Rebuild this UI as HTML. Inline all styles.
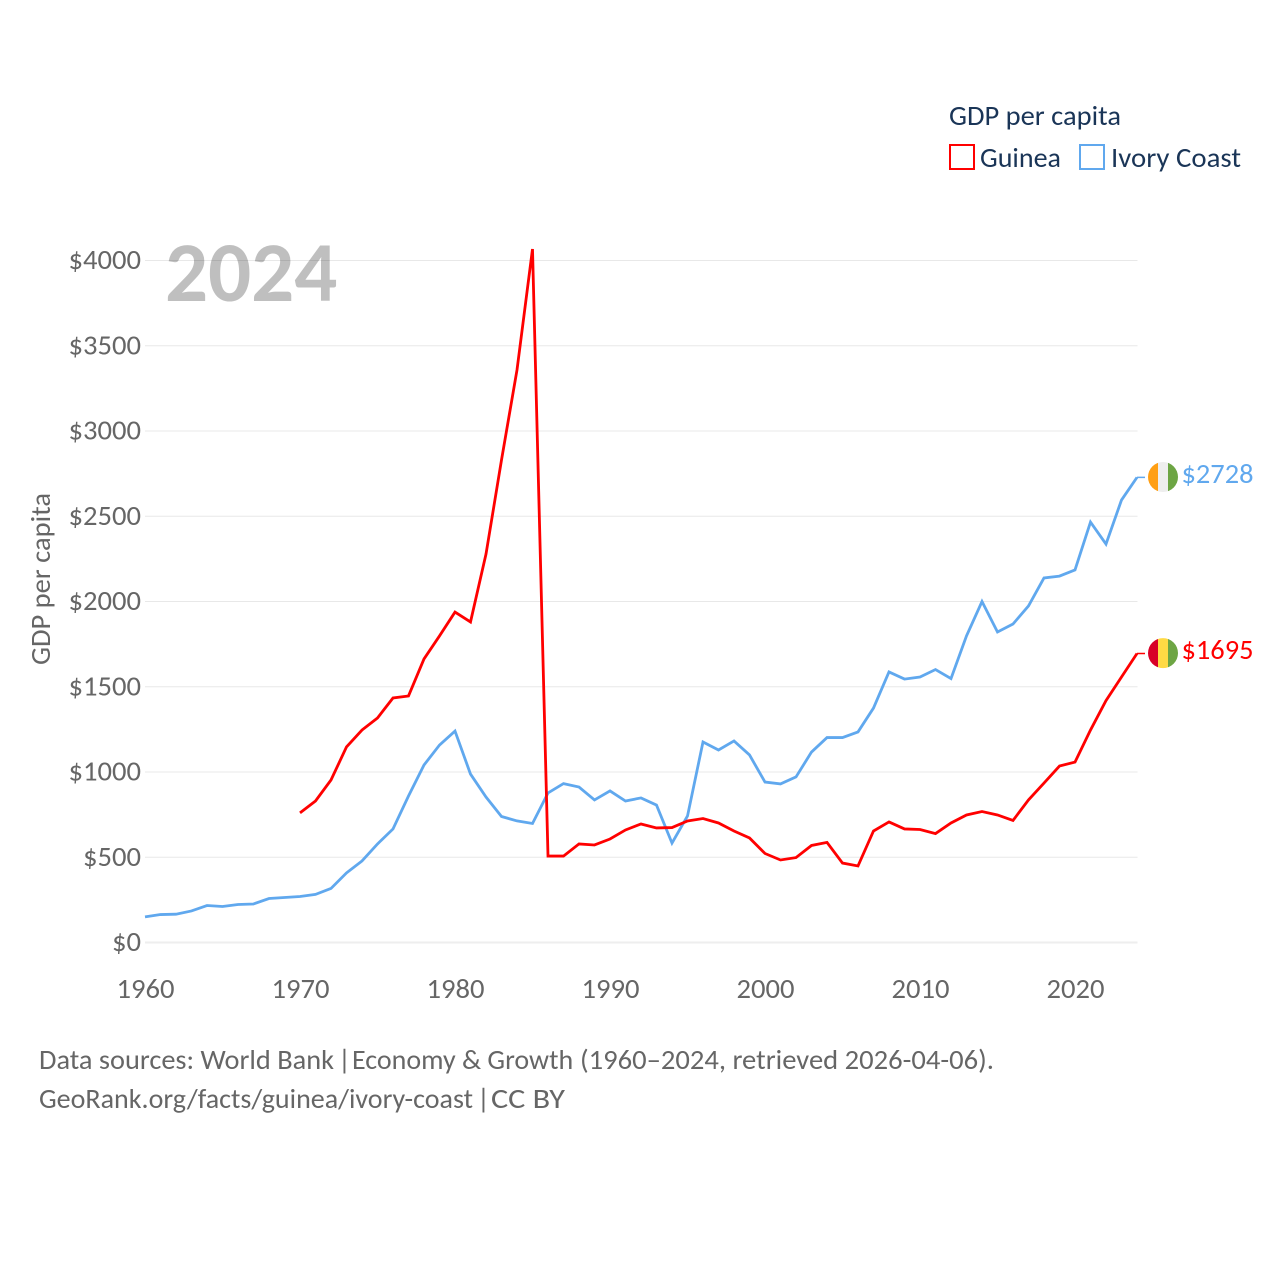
<!DOCTYPE html>
<html lang="en">
<head>
<meta charset="utf-8">
<title>GDP per capita: Guinea and Ivory Coast</title>
<style>
html,body{margin:0;padding:0;background:#fff;width:1280px;height:1280px;overflow:hidden}
svg{display:block}
text{font-family:"Carlito","Lato","Liberation Sans",sans-serif}
</style>
</head>
<body>
<svg id="chart" xmlns="http://www.w3.org/2000/svg" width="1280" height="1280" viewBox="0 0 1280 1280">
  <rect x="0" y="0" width="1280" height="1280" fill="#fff"/>
  <g id="grid"></g>
  <text x="165" y="301" font-size="85" font-weight="700" fill="#000" fill-opacity="0.25">2024</text>
  <g id="yticks"></g>
  <g id="xticks"></g>
  <text transform="translate(50,665) rotate(-90)" font-size="28" fill="#666" textLength="172" lengthAdjust="spacingAndGlyphs">GDP per capita</text>
  <g id="series"></g>
  <g id="ends"></g>

  <g>
    <text x="949" y="125" font-size="28" fill="#1a3557" textLength="172" lengthAdjust="spacingAndGlyphs">GDP per capita</text>
    <g>
      <rect x="950" y="145" width="24" height="24" fill="none" stroke="#ff0000" stroke-width="2"/>
      <text x="980" y="167" font-size="28" fill="#1a3557" textLength="81" lengthAdjust="spacingAndGlyphs">Guinea</text>
    </g>
    <g>
      <rect x="1080" y="145" width="24" height="24" fill="none" stroke="#60a8ee" stroke-width="2"/>
      <text x="1111" y="167" font-size="28" fill="#1a3557" textLength="130" lengthAdjust="spacingAndGlyphs">Ivory Coast</text>
    </g>
  </g>

  <text y="1069" font-size="28" fill="#666"><tspan x="39" textLength="295" lengthAdjust="spacingAndGlyphs">Data sources: World Bank</tspan> <tspan x="338">|</tspan> <tspan x="352">Economy &amp; Growth</tspan> <tspan x="580" textLength="414" lengthAdjust="spacingAndGlyphs">(1960–2024, retrieved 2026-04-06).</tspan></text>
  <text y="1108" font-size="28" fill="#666"><tspan x="39" textLength="434" lengthAdjust="spacingAndGlyphs">GeoRank.org/facts/guinea/ivory-coast</tspan> <tspan x="477">|</tspan> <tspan x="491" textLength="74" lengthAdjust="spacingAndGlyphs">CC BY</tspan></text>
</svg>

<script>
const ivoryYears = [1960,1961,1962,1963,1964,1965,1966,1967,1968,1969,1970,1971,1972,1973,1974,1975,1976,1977,1978,1979,1980,1981,1982,1983,1984,1985,1986,1987,1988,1989,1990,1991,1992,1993,1994,1995,1996,1997,1998,1999,2000,2001,2002,2003,2004,2005,2006,2007,2008,2009,2010,2011,2012,2013,2014,2015,2016,2017,2018,2019,2020,2021,2022,2023,2024];
const ivoryValues = [150,164,166,185,217,211,223,226,258,264,270,282,317,408,478,578,666,859,1041,1158,1240,988,853,739,713,698,877,932,912,836,889,830,848,806,583,742,1176,1129,1182,1100,941,930,971,1117,1202,1202,1235,1375,1587,1545,1557,1601,1548,1798,2000,1821,1868,1974,2138,2149,2185,2466,2337,2595,2728];
const guineaYears = [1970,1971,1972,1973,1974,1975,1976,1977,1978,1979,1980,1981,1982,1983,1984,1985,1986,1987,1988,1989,1990,1991,1992,1993,1994,1995,1996,1997,1998,1999,2000,2001,2002,2003,2004,2005,2006,2007,2008,2009,2010,2011,2012,2013,2014,2015,2016,2017,2018,2019,2020,2021,2022,2023,2024];
const guineaValues = [760,830,953,1147,1246,1317,1434,1446,1663,1798,1938,1880,2278,2830,3358,4067,507,507,578,572,607,660,695,672,674,713,727,701,654,613,522,484,498,569,587,466,449,654,707,666,663,639,701,748,768,748,716,836,935,1035,1058,1246,1419,1557,1695];
const yTickValues = [0,500,1000,1500,2000,2500,3000,3500,4000];
const yTickLabels = ["$0","$500","$1000","$1500","$2000","$2500","$3000","$3500","$4000"];
const xTickValues = [1960,1970,1980,1990,2000,2010,2020];
const xTickLabels = ["1960","1970","1980","1990","2000","2010","2020"];

const NS = 'http://www.w3.org/2000/svg';
const xScale = function (year) { return 145 + (year - 1960) * 15.5; };
const yScale = function (value) { return 942.5 - value * 0.1705; };

const gridGroup = document.getElementById('grid');
const yTickGroup = document.getElementById('yticks');
const xTickGroup = document.getElementById('xticks');
const seriesGroup = document.getElementById('series');
const endGroup = document.getElementById('ends');

yTickValues.forEach(function (v, i) {
  const line = document.createElementNS(NS, 'line');
  
  
  line.setAttribute('x1', 145);
  line.setAttribute('x2', 1137.5);
  line.setAttribute('y1', yScale(v));
  line.setAttribute('y2', yScale(v));
  line.setAttribute('stroke', v === 0 ? '#eeeeee' : '#e8e8e8');
  line.setAttribute('stroke-width', v === 0 ? 2 : 1);
  gridGroup.appendChild(line);

  const label = document.createElementNS(NS, 'text');
  
  
  label.setAttribute('x', 141);
  label.setAttribute('y', yScale(v) + 8.5);
  label.setAttribute('text-anchor', 'end');
  label.setAttribute('font-size', 28);
  label.setAttribute('fill', '#666');
  label.setAttribute('textLength', yTickLabels[i].length * 14.5);
  label.setAttribute('lengthAdjust', 'spacingAndGlyphs');
  label.textContent = yTickLabels[i];
  yTickGroup.appendChild(label);
});

xTickValues.forEach(function (v, i) {
  const label = document.createElementNS(NS, 'text');
  
  
  label.setAttribute('x', xScale(v) + 0.5);
  label.setAttribute('y', 998);
  label.setAttribute('text-anchor', 'middle');
  label.setAttribute('font-size', 28);
  label.setAttribute('fill', '#666');
  label.setAttribute('textLength', 58);
  label.setAttribute('lengthAdjust', 'spacingAndGlyphs');
  label.textContent = xTickLabels[i];
  xTickGroup.appendChild(label);
});

function buildPoints(years, values) {
  return years.map(function (y, i) {
    return xScale(y).toFixed(2) + ',' + yScale(values[i]).toFixed(2);
  }).join(' ');
}

const ivoryLine = document.createElementNS(NS, 'polyline');


ivoryLine.setAttribute('points', buildPoints(ivoryYears, ivoryValues));
ivoryLine.setAttribute('fill', 'none');
ivoryLine.setAttribute('stroke', '#60a8ee');
ivoryLine.setAttribute('stroke-width', 2.8);
ivoryLine.setAttribute('stroke-linejoin', 'miter');
seriesGroup.appendChild(ivoryLine);

const guineaLine = document.createElementNS(NS, 'polyline');


guineaLine.setAttribute('points', buildPoints(guineaYears, guineaValues));
guineaLine.setAttribute('fill', 'none');
guineaLine.setAttribute('stroke', '#ff0000');
guineaLine.setAttribute('stroke-width', 2.8);
guineaLine.setAttribute('stroke-linejoin', 'miter');
seriesGroup.appendChild(guineaLine);

function addEndMarker(year, value, color, stripes, flagName, labelName, connectorName) {
  const px = xScale(year);
  const py = yScale(value);
  const cx = px + 26;

  const connector = document.createElementNS(NS, 'line');
  
  
  connector.setAttribute('x1', px);
  connector.setAttribute('x2', px + 8);
  connector.setAttribute('y1', py);
  connector.setAttribute('y2', py);
  connector.setAttribute('stroke', color);
  connector.setAttribute('stroke-width', 1.5);
  endGroup.appendChild(connector);

  const clip = document.createElementNS(NS, 'clipPath');
  clip.setAttribute('id', flagName + '-clip');
  const circle = document.createElementNS(NS, 'circle');
  circle.setAttribute('cx', cx);
  circle.setAttribute('cy', py - 0.4);
  circle.setAttribute('r', 15);
  clip.appendChild(circle);
  endGroup.appendChild(clip);

  const flag = document.createElementNS(NS, 'g');
  
  
  flag.setAttribute('clip-path', 'url(#' + flagName + '-clip)');
  stripes.forEach(function (fill, i) {
    const stripe = document.createElementNS(NS, 'rect');
    stripe.setAttribute('x', cx - 15 + i * 10);
    stripe.setAttribute('y', py - 16);
    stripe.setAttribute('width', 10);
    stripe.setAttribute('height', 32);
    stripe.setAttribute('fill', fill);
    flag.appendChild(stripe);
  });
  endGroup.appendChild(flag);

  const label = document.createElementNS(NS, 'text');
  
  
  label.setAttribute('x', cx + 18.5);
  label.setAttribute('y', py + 5.5);
  label.setAttribute('font-size', 28);
  label.setAttribute('fill', color);
  label.setAttribute('textLength', 72);
  label.setAttribute('lengthAdjust', 'spacingAndGlyphs');
  label.textContent = '$' + value;
  endGroup.appendChild(label);
}

addEndMarker(ivoryYears[ivoryYears.length - 1], ivoryValues[ivoryValues.length - 1], '#60a8ee', ['#ff9f14', '#eeeeee', '#6da544'], 'flag-ivory-coast', 'end-value-ivory-coast', 'connector-ivory-coast');
addEndMarker(guineaYears[guineaYears.length - 1], guineaValues[guineaValues.length - 1], '#ff0000', ['#d80027', '#ffda44', '#6da544'], 'flag-guinea', 'end-value-guinea', 'connector-guinea');
</script>
</body>
</html>
